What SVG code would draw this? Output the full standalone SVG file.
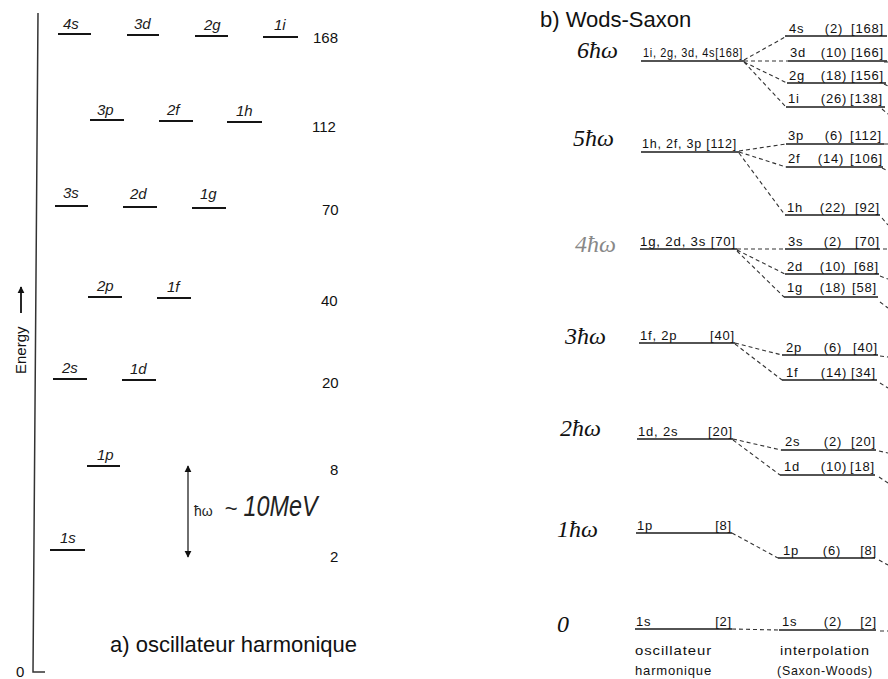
<svg xmlns="http://www.w3.org/2000/svg" width="888" height="679" viewBox="0 0 888 679">
<style>
.lvl{stroke:#151515;stroke-width:2}
.rl{stroke:#1a1a1a;stroke-width:1.6}
.con{stroke:#333;stroke-width:1.1;stroke-dasharray:4 3;fill:none}
.lab{font-family:"Liberation Sans",Arial,sans-serif;font-style:italic;font-size:15px;fill:#1a1a1a}
.num{font-family:"Liberation Sans",Arial,sans-serif;font-size:15px;fill:#111}
.ty{font-family:"Liberation Sans",Arial,sans-serif;font-size:13px;fill:#111;letter-spacing:0.8px}
.mid{text-anchor:middle}
.end{text-anchor:end}
.hw{font-family:"Liberation Serif","Times New Roman",serif;font-style:italic;font-size:24px;fill:#111}
.title{font-family:"Liberation Sans",Arial,sans-serif;font-size:22px;fill:#111}
</style>
<defs>
<marker id="ah" viewBox="0 0 10 10" refX="9" refY="5" markerWidth="7" markerHeight="12" orient="auto-start-reverse" markerUnits="userSpaceOnUse"><path d="M0,0 L10,5 L0,10 z" fill="#111"/></marker>
<marker id="ah2" viewBox="0 0 10 10" refX="9" refY="5" markerWidth="7" markerHeight="8" orient="auto" markerUnits="userSpaceOnUse"><path d="M0,0 L10,5 L0,10 z" fill="#111"/></marker>
</defs>
<rect width="888" height="679" fill="#fff"/>

<!-- Left panel: axis -->
<g id="axis">
<path d="M38,13 L33,672 L45,672" fill="none" stroke="#333" stroke-width="1.5"/>
<text x="16" y="677" class="num" font-size="14">0</text>
<text class="num" font-size="17" transform="translate(26,374) rotate(-90)">Energy</text>
<line x1="21" y1="313" x2="21" y2="287" stroke="#111" stroke-width="1.8" marker-end="url(#ah2)"/>
</g>

<!-- Left panel levels -->
<g id="ho-N6">
<g id="ho-4s"><text x="63" y="29" class="lab">4s</text><line x1="58" y1="34" x2="91" y2="34" class="lvl"/></g>
<g id="ho-3d"><text x="134" y="29" class="lab">3d</text><line x1="127" y1="35" x2="159" y2="35" class="lvl"/></g>
<g id="ho-2g"><text x="204" y="30" class="lab">2g</text><line x1="195" y1="36" x2="228" y2="36" class="lvl"/></g>
<g id="ho-1i"><text x="274" y="30" class="lab">1i</text><line x1="263" y1="37" x2="298" y2="37" class="lvl"/></g>
<text x="313" y="43" class="num">168</text>
</g>
<g id="ho-N5">
<g id="ho-3p"><text x="97" y="115" class="lab">3p</text><line x1="90" y1="120" x2="124" y2="120" class="lvl"/></g>
<g id="ho-2f"><text x="167" y="115" class="lab">2f</text><line x1="159" y1="121" x2="193" y2="121" class="lvl"/></g>
<g id="ho-1h"><text x="236" y="116" class="lab">1h</text><line x1="227" y1="122" x2="262" y2="122" class="lvl"/></g>
<text x="312" y="132" class="num">112</text>
</g>
<g id="ho-N4">
<g id="ho-3s"><text x="63" y="198" class="lab">3s</text><line x1="55" y1="206" x2="88" y2="206" class="lvl"/></g>
<g id="ho-2d"><text x="130" y="199" class="lab">2d</text><line x1="123" y1="207" x2="157" y2="207" class="lvl"/></g>
<g id="ho-1g"><text x="200" y="199" class="lab">1g</text><line x1="192" y1="208" x2="226" y2="208" class="lvl"/></g>
<text x="322" y="215" class="num">70</text>
</g>
<g id="ho-N3">
<g id="ho-2p"><text x="97" y="291" class="lab">2p</text><line x1="88" y1="297" x2="122" y2="297" class="lvl"/></g>
<g id="ho-1f"><text x="167" y="292" class="lab">1f</text><line x1="157" y1="298" x2="191" y2="298" class="lvl"/></g>
<text x="321" y="306" class="num">40</text>
</g>
<g id="ho-N2">
<g id="ho-2s"><text x="62" y="373" class="lab">2s</text><line x1="53" y1="379" x2="87" y2="379" class="lvl"/></g>
<g id="ho-1d"><text x="130" y="374" class="lab">1d</text><line x1="122" y1="380" x2="156" y2="380" class="lvl"/></g>
<text x="322" y="388" class="num">20</text>
</g>
<g id="ho-N1">
<g id="ho-1p"><text x="97" y="460" class="lab">1p</text><line x1="87" y1="466" x2="120" y2="466" class="lvl"/></g>
<text x="330" y="475" class="num">8</text>
</g>
<g id="ho-N0">
<g id="ho-1s"><text x="60" y="543" class="lab">1s</text><line x1="50" y1="550" x2="85" y2="550" class="lvl"/></g>
<text x="330" y="562" class="num">2</text>
</g>
<g id="spacing">
<line x1="188" y1="466" x2="188" y2="557" stroke="#222" stroke-width="1.3" marker-start="url(#ah)" marker-end="url(#ah)"/>
<text x="194" y="516" fill="#222" font-family="Liberation Sans, Arial, sans-serif"><tspan font-size="14">ħω</tspan><tspan font-size="22" dx="12">~</tspan><tspan font-size="30" font-style="italic" dx="6" textLength="74" lengthAdjust="spacingAndGlyphs">10MeV</tspan></text>
</g>
<text x="110" y="652" class="title">a) oscillateur harmonique</text>

<!-- Right panel -->
<text x="540" y="27" class="title">b) Wods-Saxon</text>

<g id="ho-shells">
<g id="s6"><text x="577" y="58" class="hw">6ħω</text><text x="643" y="57" class="ty" textLength="100" lengthAdjust="spacingAndGlyphs">1i, 2g, 3d, 4s[168]</text><line x1="641" y1="61" x2="744" y2="61" class="rl"/></g>
<g id="s5"><text x="573" y="146" class="hw">5ħω</text><text x="642" y="148" class="ty" textLength="95" lengthAdjust="spacingAndGlyphs">1h, 2f, 3p [112]</text><line x1="641" y1="152" x2="739" y2="152" class="rl"/></g>
<g id="s4"><text x="575" y="252" class="hw" style="fill:#888">4ħω</text><text x="640" y="246" class="ty" textLength="96" lengthAdjust="spacingAndGlyphs">1g, 2d, 3s [70]</text><line x1="640" y1="249" x2="737" y2="249" class="rl"/></g>
<g id="s3"><text x="565" y="344" class="hw">3ħω</text><text x="640" y="340" class="ty">1f, 2p</text><text x="735" y="340" class="ty end">[40]</text><line x1="639" y1="343" x2="735" y2="343" class="rl"/></g>
<g id="s2"><text x="560" y="436" class="hw">2ħω</text><text x="638" y="436" class="ty">1d, 2s</text><text x="733" y="436" class="ty end">[20]</text><line x1="637" y1="439" x2="733" y2="439" class="rl"/></g>
<g id="s1"><text x="557" y="537" class="hw">1ħω</text><text x="637" y="530" class="ty">1p</text><text x="732" y="530" class="ty end">[8]</text><line x1="636" y1="533" x2="732" y2="533" class="rl"/></g>
<g id="s0"><text x="557" y="632" class="hw">0</text><text x="636" y="626" class="ty">1s</text><text x="732" y="626" class="ty end">[2]</text><line x1="635" y1="629" x2="732" y2="629" class="rl"/></g>
<text x="635" y="655" class="ty" textLength="77" lengthAdjust="spacingAndGlyphs">oscillateur</text>
<text x="635" y="675" class="ty" textLength="77" lengthAdjust="spacingAndGlyphs">harmonique</text>
</g>

<g id="ws-levels">
<g id="ws-4s"><text x="789" y="33" class="ty">4s</text><text x="834" y="33" class="ty mid">(2)</text><text x="884" y="33" class="ty end">[168]</text><line x1="785" y1="36" x2="887" y2="36" class="rl"/></g>
<g id="ws-3d"><text x="790" y="57" class="ty">3d</text><text x="834" y="57" class="ty mid">(10)</text><text x="884" y="57" class="ty end">[166]</text><line x1="788" y1="61" x2="887" y2="61" class="rl"/></g>
<g id="ws-2g"><text x="789" y="80" class="ty">2g</text><text x="834" y="80" class="ty mid">(18)</text><text x="884" y="80" class="ty end">[156]</text><line x1="787" y1="83" x2="886" y2="83" class="rl"/></g>
<g id="ws-1i"><text x="788" y="103" class="ty">1i</text><text x="834" y="103" class="ty mid">(26)</text><text x="883" y="103" class="ty end">[138]</text><line x1="786" y1="107" x2="885" y2="107" class="rl"/></g>
<g id="ws-3p"><text x="788" y="140" class="ty">3p</text><text x="834" y="140" class="ty mid">(6)</text><text x="882" y="140" class="ty end">[112]</text><line x1="786" y1="144" x2="884" y2="144" class="rl"/></g>
<g id="ws-2f"><text x="788" y="163" class="ty">2f</text><text x="831" y="163" class="ty mid">(14)</text><text x="883" y="163" class="ty end">[106]</text><line x1="786" y1="167" x2="883" y2="167" class="rl"/></g>
<g id="ws-1h"><text x="787" y="212" class="ty">1h</text><text x="833" y="212" class="ty mid">(22)</text><text x="880" y="212" class="ty end">[92]</text><line x1="785" y1="215" x2="880" y2="215" class="rl"/></g>
<g id="ws-3s"><text x="788" y="246" class="ty">3s</text><text x="833" y="246" class="ty mid">(2)</text><text x="880" y="246" class="ty end">[70]</text><line x1="785" y1="249" x2="880" y2="249" class="rl"/></g>
<g id="ws-2d"><text x="787" y="271" class="ty">2d</text><text x="833" y="271" class="ty mid">(10)</text><text x="879" y="271" class="ty end">[68]</text><line x1="785" y1="274" x2="879" y2="274" class="rl"/></g>
<g id="ws-1g"><text x="787" y="292" class="ty">1g</text><text x="833" y="292" class="ty mid">(18)</text><text x="877" y="292" class="ty end">[58]</text><line x1="784" y1="297" x2="878" y2="297" class="rl"/></g>
<g id="ws-2p"><text x="786" y="352" class="ty">2p</text><text x="833" y="352" class="ty mid">(6)</text><text x="878" y="352" class="ty end">[40]</text><line x1="782" y1="355" x2="878" y2="355" class="rl"/></g>
<g id="ws-1f"><text x="786" y="377" class="ty">1f</text><text x="834" y="377" class="ty mid">(14)</text><text x="876" y="377" class="ty end">[34]</text><line x1="782" y1="380" x2="877" y2="380" class="rl"/></g>
<g id="ws-2s"><text x="785" y="446" class="ty">2s</text><text x="833" y="446" class="ty mid">(2)</text><text x="876" y="446" class="ty end">[20]</text><line x1="781" y1="450" x2="876" y2="450" class="rl"/></g>
<g id="ws-1d"><text x="784" y="471" class="ty">1d</text><text x="834" y="471" class="ty mid">(10)</text><text x="875" y="471" class="ty end">[18]</text><line x1="780" y1="475" x2="875" y2="475" class="rl"/></g>
<g id="ws-1p"><text x="783" y="555" class="ty">1p</text><text x="832" y="555" class="ty mid">(6)</text><text x="877" y="555" class="ty end">[8]</text><line x1="778" y1="558" x2="875" y2="558" class="rl"/></g>
<g id="ws-1s"><text x="782" y="626" class="ty">1s</text><text x="833" y="626" class="ty mid">(2)</text><text x="877" y="626" class="ty end">[2]</text><line x1="779" y1="630" x2="876" y2="630" class="rl"/></g>
<text x="780" y="655" class="ty" textLength="90" lengthAdjust="spacingAndGlyphs">interpolation</text>
<text x="777" y="675" class="ty" textLength="96" lengthAdjust="spacingAndGlyphs">(Saxon-Woods)</text>
</g>

<g id="connectors">
<path class="con" d="M744,60 L787,36 M744,61 L788,61 M744,62 L787,83 M744,62 L786,107"/>
<path class="con" d="M739,151 L786,144 M739,152 L786,167 M739,153 L785,215"/>
<path class="con" d="M737,249 L785,249 M737,250 L785,274 M737,251 L784,297"/>
<path class="con" d="M735,343 L782,355 M735,344 L782,380"/>
<path class="con" d="M733,439 L781,450 M733,440 L780,475"/>
<path class="con" d="M732,533 L778,558"/>
<path class="con" d="M732,629 L779,630"/>
<path class="con" d="M884,62 L888,62 M884,84 L888,86 M882,109 L888,114 M884,144 L888,144 M882,168 L888,171 M882,218 L888,225 M883,249 L888,249 M880,276 L888,279 M880,302 L888,308 M880,356 L888,357 M880,383 L888,388 M879,451 L888,453 M879,477 L888,483 M879,560 L888,565 M880,631 L888,631"/>
</g>
</svg>
